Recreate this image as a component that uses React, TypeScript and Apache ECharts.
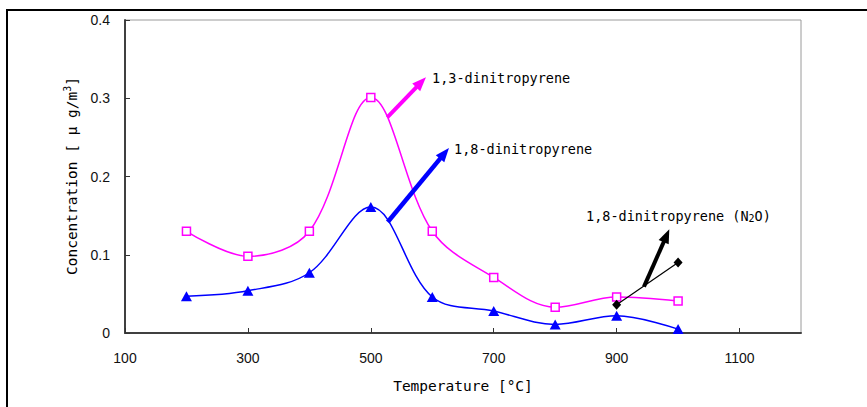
import React, { useEffect, useRef } from "react";
import * as echarts from "echarts";

const temperatures = [200, 300, 400, 500, 600, 700, 800, 900, 1000];
const dnp13 = [0.13, 0.098, 0.13, 0.301, 0.13, 0.071, 0.033, 0.046, 0.041];
const dnp18 = [0.047, 0.054, 0.077, 0.161, 0.046, 0.028, 0.011, 0.022, 0.005];
const n2oTemps = [900, 1000];
const dnp18N2O = [0.036, 0.09];

// annotation arrows in data coordinates [start, end]
const arrow13 = [[526.8, 0.2757], [581.8, 0.3204]];
const arrow18 = [[527.5, 0.1419], [619.9, 0.2295]];
const arrowN2O = [[944.5, 0.0592], [981.1, 0.1243]];

const FONT_MONO = '"DejaVu Sans Mono", "Liberation Mono", monospace';
const FONT_NUM = '"Liberation Sans", Arial, sans-serif';

function arrowMark(pts: number[][], color: string, width: number) {
  return {
    silent: true,
    symbol: ["none", "triangle"],
    symbolSize: [11, 14],
    label: { show: false },
    emphasis: { disabled: true },
    lineStyle: { color, width, type: "solid" },
    data: [[{ coord: pts[0] }, { coord: pts[1] }]],
  };
}

export default function App() {
  const ref = useRef<HTMLDivElement>(null);
  useEffect(() => {
    if (!ref.current) return;
    const chart = echarts.init(ref.current, null, { renderer: "svg" });
    chart.setOption({
      animation: false,
      backgroundColor: "#ffffff",
      grid: {
        left: 125,
        top: 20,
        right: 66,
        bottom: 74,
        show: true,
        borderColor: "#9a9a9a",
        borderWidth: 1,
      },
      xAxis: {
        type: "value",
        min: 100,
        max: 1200,
        interval: 200,
        name: "Temperature [°C]",
        nameLocation: "middle",
        nameGap: 45,
        nameTextStyle: { fontFamily: FONT_MONO, fontSize: 14.5, color: "#000" },
        axisLine: { show: true, lineStyle: { color: "#404040", width: 2 } },
        axisTick: { show: true, inside: true, length: 5, lineStyle: { color: "#333", width: 1 } },
        axisLabel: {
          showMaxLabel: false,
          margin: 18,
          fontFamily: FONT_NUM,
          fontSize: 14,
          color: "#111",
          formatter: (v: number) => String(v),
        },
        splitLine: { show: false },
      },
      yAxis: {
        type: "value",
        min: 0,
        max: 0.4,
        interval: 0.1,
        axisLine: { show: true, lineStyle: { color: "#404040", width: 2 } },
        axisTick: { show: true, inside: true, length: 5, lineStyle: { color: "#333", width: 1 } },
        axisLabel: { margin: 15, fontFamily: FONT_NUM, fontSize: 14, color: "#111" },
        splitLine: { show: false },
      },
      graphic: [
        {
          type: "line",
          shape: { x1: 6, y1: 10, x2: 867, y2: 10 },
          style: { stroke: "#000", lineWidth: 2 },
        },
        {
          type: "line",
          shape: { x1: 7, y1: 9, x2: 7, y2: 407 },
          style: { stroke: "#000", lineWidth: 2 },
        },
        {
          type: "text",
          x: 72,
          y: 176,
          rotation: Math.PI / 2,
          style: {
            text: "{a|Concentration [ μ g/m}{s|3}{a|]}",
            align: "center",
            verticalAlign: "middle",
            rich: {
              a: { fontFamily: FONT_MONO, fontSize: 14.5, fill: "#000" },
              s: { fontFamily: FONT_MONO, fontSize: 10, fill: "#000", padding: [0, 0, 9, 0] },
            },
          },
        },
        {
          type: "text",
          x: 432,
          y: 78,
          style: {
            text: "1,3-dinitropyrene",
            fontFamily: FONT_MONO,
            fontSize: 13.5,
            fill: "#000",
            verticalAlign: "middle",
          },
        },
        {
          type: "text",
          x: 454,
          y: 149,
          style: {
            text: "1,8-dinitropyrene",
            fontFamily: FONT_MONO,
            fontSize: 13.5,
            fill: "#000",
            verticalAlign: "middle",
          },
        },
        {
          type: "text",
          x: 586,
          y: 216,
          style: {
            text: "{a|1,8-dinitropyrene (N}{s|2}{a|O)}",
            verticalAlign: "middle",
            rich: {
              a: { fontFamily: FONT_MONO, fontSize: 13.5, fill: "#000" },
              s: { fontFamily: FONT_MONO, fontSize: 10, fill: "#000", padding: [5, 0, 0, 0] },
            },
          },
        },
      ],
      series: [
        {
          name: "1,3-dinitropyrene",
          type: "line",
          data: temperatures.map((t, i) => [t, dnp13[i]]),
          smooth: 0.35,
          symbol: "rect",
          symbolSize: 8,
          showAllSymbol: true,
          lineStyle: { color: "#ff00ff", width: 1.5 },
          itemStyle: { color: "#ffffff", borderColor: "#ff00ff", borderWidth: 1.5 },
          emphasis: { disabled: true },
          z: 3,
          markLine: arrowMark(arrow13, "#ff00ff", 4),
        },
        {
          name: "1,8-dinitropyrene",
          type: "line",
          data: temperatures.map((t, i) => [t, dnp18[i]]),
          smooth: 0.35,
          symbol: "triangle",
          symbolSize: [11, 10],
          showAllSymbol: true,
          lineStyle: { color: "#0000ff", width: 1.5 },
          itemStyle: { color: "#0000ff", borderColor: "#0000ff", borderWidth: 0 },
          emphasis: { disabled: true },
          z: 3,
          markLine: arrowMark(arrow18, "#0000ff", 4.5),
        },
        {
          name: "1,8-dinitropyrene (N2O)",
          type: "line",
          data: n2oTemps.map((t, i) => [t, dnp18N2O[i]]),
          symbol: "diamond",
          symbolSize: [9, 10],
          lineStyle: { color: "#000000", width: 1.2 },
          itemStyle: { color: "#000000" },
          emphasis: { disabled: true },
          z: 4,
          markLine: arrowMark(arrowN2O, "#000000", 4),
        },
      ],
    });
    return () => chart.dispose();
  }, []);
  return (
    <div
      ref={ref}
      style={{ position: "fixed", left: 0, top: 0, width: 867, height: 407, background: "#fff" }}
    />
  );
}
